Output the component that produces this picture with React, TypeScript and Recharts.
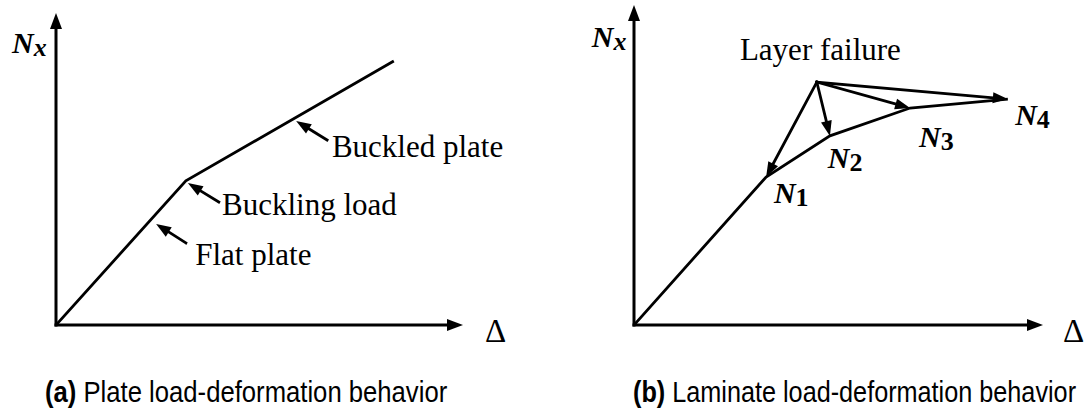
import { LineChart, Line, XAxis, YAxis, ReferenceLine, ReferenceDot } from "recharts";

// (a) plate: deformation / load, in % of the axis length
const plateDelta = [0, 31.9, 83.0];
const plateLoad = [0, 46.2, 84.6];

// (b) laminate: origin, N1..N4
const laminateDelta = [0, 32.3, 47.9, 67.5, 91.4];
const laminateLoad = [0, 46.25, 59.1, 67.8, 70.6];

// where the "layer failure" arrows start
const failureDelta = 44.7;
const failureLoad = 75.9;

// pointer arrows of panel (a): [tailX, tailY, tipX, tipY]
const plateNotes = ["Buckled plate", "Buckling load", "Flat plate"];
const plateArrows = [
	[66.6, 59.3, 59.0, 65.4],
	[40.0, 39.4, 32.4, 45.5],
	[31.9, 26.3, 24.6, 32.4],
];
const plateNoteAt = [
	[67.8, 53.8],
	[40.8, 35.3],
	[34.2, 19.2],
];

const laminateNoteAt = [
	[34.2, 38.1],
	[47.4, 49.1],
	[69.7, 55.6],
	[93.2, 62.5],
];

const plateData = plateDelta.map((x, i) => ({ x, y: plateLoad[i] }));
const laminateData = laminateDelta.map((x, i) => ({ x, y: laminateLoad[i] }));

const SERIF = '"Liberation Serif", "Times New Roman", serif';
const SANS = '"Liberation Sans", Arial, sans-serif';

const arrow = (head: number, half: number, w: number) => (p: any) => {
	const { x1, y1, x2, y2 } = p;
	const dx = x2 - x1;
	const dy = y2 - y1;
	const len = Math.hypot(dx, dy) || 1;
	const ux = dx / len;
	const uy = dy / len;
	const bx = x2 - ux * head;
	const by = y2 - uy * head;
	const pts = `${x2},${y2} ${bx - uy * half},${by + ux * half} ${bx + uy * half},${by - ux * half}`;
	return (
		<g>
			<line x1={x1} y1={y1} x2={bx + ux * 2} y2={by + uy * 2} stroke="#000" strokeWidth={w} strokeLinecap="square" />
			<polygon points={pts} fill="#000" />
		</g>
	);
};

const axisArrow = arrow(16, 6, 3);
const noteArrow = arrow(15, 5.5, 2.8);

const textAt = (content: any, size: number, family = SERIF) => (p: any) => (
	<text x={p.cx} y={p.cy} fontFamily={family} fontSize={size} fill="#000">
		{content}
	</text>
);

const NLabel = (sub: string, subItalic: boolean) => (
	<>
		<tspan fontStyle="italic" fontWeight="bold">N</tspan>
		<tspan fontStyle={subItalic ? "italic" : "normal"} fontWeight="bold" fontSize={26} dy={3}>{sub}</tspan>
	</>
);

// narrow sans caption, squeezed horizontally like the original
const Caption = ({ x, tag, text, squeeze }: { x: number; tag: string; text: string; squeeze: number }) => (
	<text transform={`translate(${x},402) scale(${squeeze},1)`} fontFamily={SANS} fontSize={29} fill="#000">
		<tspan fontWeight="bold">{tag}</tspan> {text}
	</text>
);

export default function App() {
	return (
		<div style={{ position: "absolute", left: 0, top: 0, width: 1084, height: 409, background: "#fff" }}>
			<div style={{ position: "absolute", left: 0, top: 0 }}>
				<LineChart width={540} height={409} data={plateData} margin={{ top: 13, right: 77, bottom: 84, left: 56 }}>
					<XAxis type="number" dataKey="x" domain={[0, 100]} hide allowDataOverflow />
					<YAxis type="number" domain={[0, 100]} hide allowDataOverflow />
					<ReferenceLine segment={[{ x: 0, y: 0 }, { x: 100, y: 0 }]} ifOverflow="visible" shape={axisArrow} />
					<ReferenceLine segment={[{ x: 0, y: 0 }, { x: 0, y: 100 }]} ifOverflow="visible" shape={axisArrow} />
					<Line type="linear" dataKey="y" stroke="#000" strokeWidth={2.8} dot={false} isAnimationActive={false} />
					{plateArrows.map((a, i) => (
						<ReferenceLine key={"a" + i} segment={[{ x: a[0], y: a[1] }, { x: a[2], y: a[3] }]} ifOverflow="visible" shape={noteArrow} />
					))}
					{plateNotes.map((t, i) => (
						<ReferenceDot key={"t" + i} x={plateNoteAt[i][0]} y={plateNoteAt[i][1]} ifOverflow="visible" shape={textAt(t, 31)} />
					))}
					<ReferenceDot x={-10.8} y={87.2} ifOverflow="visible" shape={textAt(NLabel("x", true), 30)} />
					<ReferenceDot x={105.4} y={-5.4} ifOverflow="visible" shape={textAt("Δ", 33)} />
				</LineChart>
			</div>
			<div style={{ position: "absolute", left: 542, top: 0 }}>
				<LineChart width={542} height={409} data={laminateData} margin={{ top: 5, right: 41, bottom: 84, left: 92 }}>
					<XAxis type="number" dataKey="x" domain={[0, 100]} hide allowDataOverflow />
					<YAxis type="number" domain={[0, 100]} hide allowDataOverflow />
					<ReferenceLine segment={[{ x: 0, y: 0 }, { x: 100, y: 0 }]} ifOverflow="visible" shape={axisArrow} />
					<ReferenceLine segment={[{ x: 0, y: 0 }, { x: 0, y: 100 }]} ifOverflow="visible" shape={axisArrow} />
					<Line type="linear" dataKey="y" stroke="#000" strokeWidth={2.8} dot={false} isAnimationActive={false} />
					{laminateDelta.slice(1).map((x, i) => (
						<ReferenceLine
							key={"f" + i}
							segment={[{ x: failureDelta, y: failureLoad }, { x, y: laminateLoad[i + 1] }]}
							ifOverflow="visible"
							shape={noteArrow}
						/>
					))}
					{laminateNoteAt.map((p, i) => (
						<ReferenceDot key={"n" + i} x={p[0]} y={p[1]} ifOverflow="visible" shape={textAt(NLabel(String(i + 1), false), 30)} />
					))}
					<ReferenceDot x={25.9} y={82.8} ifOverflow="visible" shape={textAt("Layer failure", 31)} />
					<ReferenceDot x={-10.3} y={86.9} ifOverflow="visible" shape={textAt(NLabel("x", true), 30)} />
					<ReferenceDot x={104.9} y={-5.3} ifOverflow="visible" shape={textAt("Δ", 33)} />
				</LineChart>
			</div>
			<svg width={1084} height={409} style={{ position: "absolute", left: 0, top: 0, pointerEvents: "none" }}>
				<Caption x={45} tag="(a)" text="Plate load-deformation behavior" squeeze={0.885} />
				<Caption x={633} tag="(b)" text="Laminate load-deformation behavior" squeeze={0.87} />
			</svg>
		</div>
	);
}
